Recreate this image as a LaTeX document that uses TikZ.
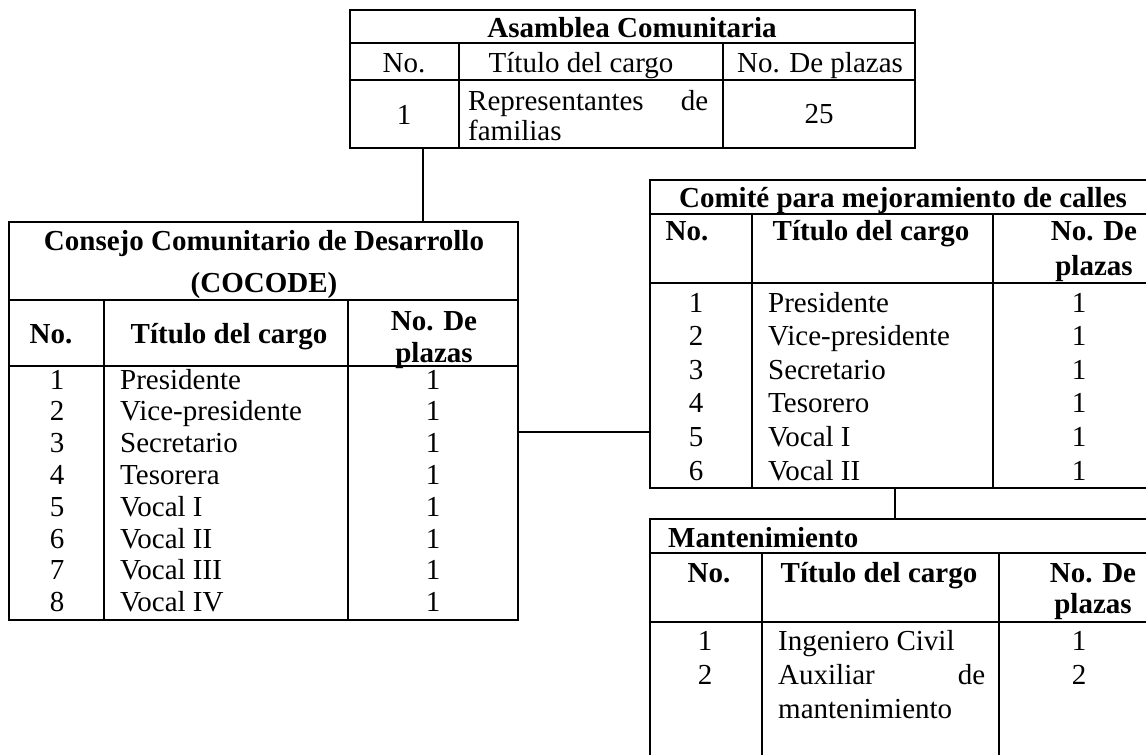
\documentclass[tikz,border=0pt]{standalone}
\usepackage{fontspec}
\setmainfont{Liberation Serif}
\begin{document}
\begin{tikzpicture}[x=1pt,y=-1pt,
  frame/.style={draw, line width=1.2pt, inner sep=0pt, outer sep=0pt, anchor=north west},
  gridline/.style={line width=1.1pt},
  conn/.style={line width=1.2pt},
  txt/.style={inner sep=0pt, anchor=base, font=\fontsize{29}{34}\selectfont},
  btxt/.style={inner sep=0pt, anchor=base, font=\fontsize{29}{34}\selectfont\bfseries},
  ltxt/.style={txt, anchor=base west},
  lbtxt/.style={btxt, anchor=base west}]
\useasboundingbox (0,0) rectangle (1146,755);
\fill[white] (0,0) rectangle (1146,755);
\clip (0,0) rectangle (1146,755);

% ---------- Asamblea Comunitaria ----------
\node[frame, minimum width=565pt, minimum height=138pt] (asam) at (350,10) {};
\draw[gridline] (350,43) -- (915,43) (350,80) -- (915,80)
  (459,43) -- (459,148) (723,43) -- (723,148);
\node[btxt] (asamT) at (632,37) {Asamblea Comunitaria};
\node[txt] (asamH1) at (404,72) {No.};
\node[txt] (asamH2) at (581,72) {Título del cargo};
\node[txt] (asamH3) at (820,72) {No. De plazas};
\node[txt] (asamR1a) at (404,124) {1};
\node[ltxt] (asamR1b) at (468,110) {\makebox[240pt][s]{Representantes\hfill de}};
\node[ltxt] (asamR1c) at (468,140) {familias};
\node[txt] (asamR1d) at (819,123) {25};

% ---------- COCODE ----------
\node[frame, minimum width=509pt, minimum height=398pt] (coc) at (9,222) {};
\draw[gridline] (9,300) -- (518,300) (9,366) -- (518,366)
  (104,300) -- (104,620) (348,300) -- (348,620);
\node[btxt] (cocT1) at (264,250) {Consejo Comunitario de Desarrollo};
\node[btxt] (cocT2) at (264,292) {(COCODE)};
\node[btxt] (cocH1) at (51,343) {No.};
\node[btxt] (cocH2) at (229,343) {Título del cargo};
\node[btxt] (cocH3a) at (434,330) {No. De};
\node[btxt] (cocH3b) at (434,362) {plazas};
\foreach \i/\t in {1/Presidente,2/Vice-presidente,3/Secretario,4/Tesorera,5/Vocal I,6/Vocal II,7/Vocal III,8/Vocal IV}{
  \node[txt] (cocN\i) at (57,{389+31.8*(\i-1)}) {\i};
  \node[ltxt] (cocC\i) at (120,{389+31.8*(\i-1)}) {\t};
  \node[txt] (cocP\i) at (433,{389+31.8*(\i-1)}) {1};
}

% ---------- Comite ----------
\node[frame, minimum width=600pt, minimum height=308pt] (com) at (650,180) {};
\draw[gridline] (650,214) -- (1250,214) (650,283) -- (1250,283)
  (752,214) -- (752,488) (993,214) -- (993,488);
\node[btxt] (comT) at (903,207) {Comité para mejoramiento de calles};
\node[btxt] (comH1) at (687,240) {No.};
\node[btxt] (comH2) at (871,240) {Título del cargo};
\node[btxt] (comH3a) at (1094,240) {No. De};
\node[btxt] (comH3b) at (1094,275) {plazas};
\foreach \i/\t in {1/Presidente,2/Vice-presidente,3/Secretario,4/Tesorero,5/Vocal I,6/Vocal II}{
  \node[txt] (comN\i) at (696,{312+33.6*(\i-1)}) {\i};
  \node[ltxt] (comC\i) at (768,{312+33.6*(\i-1)}) {\t};
  \node[txt] (comP\i) at (1079,{312+33.6*(\i-1)}) {1};
}

% ---------- Mantenimiento ----------
\node[frame, minimum width=600pt, minimum height=300pt] (man) at (650,519) {};
\draw[gridline] (650,553) -- (1250,553) (650,622) -- (1250,622)
  (762,553) -- (762,819) (999,553) -- (999,819);
\node[lbtxt] (manT) at (668,547) {Mantenimiento};
\node[btxt] (manH1) at (709,582) {No.};
\node[btxt] (manH2) at (879,582) {Título del cargo};
\node[btxt] (manH3a) at (1093,582) {No. De};
\node[btxt] (manH3b) at (1093,613) {plazas};
\node[txt] (manN1) at (705,650) {1};
\node[ltxt] (manC1) at (778,650) {Ingeniero Civil};
\node[txt] (manP1) at (1079,650) {1};
\node[txt] (manN2) at (705,684) {2};
\node[ltxt] (manC2) at (778,684) {\makebox[207pt][s]{Auxiliar\hfill de}};
\node[ltxt] (manC2b) at (778,718) {mantenimiento};
\node[txt] (manP2) at (1079,684) {2};

% ---------- connectors ----------
\draw[conn] (asam.south -| 423,0) -- (coc.north -| 423,0);
\draw[conn] (coc.east |- 0,432) -- (com.west |- 0,432);
\draw[conn] (com.south -| 895,0) -- (man.north -| 895,0);
\end{tikzpicture}
\end{document}
